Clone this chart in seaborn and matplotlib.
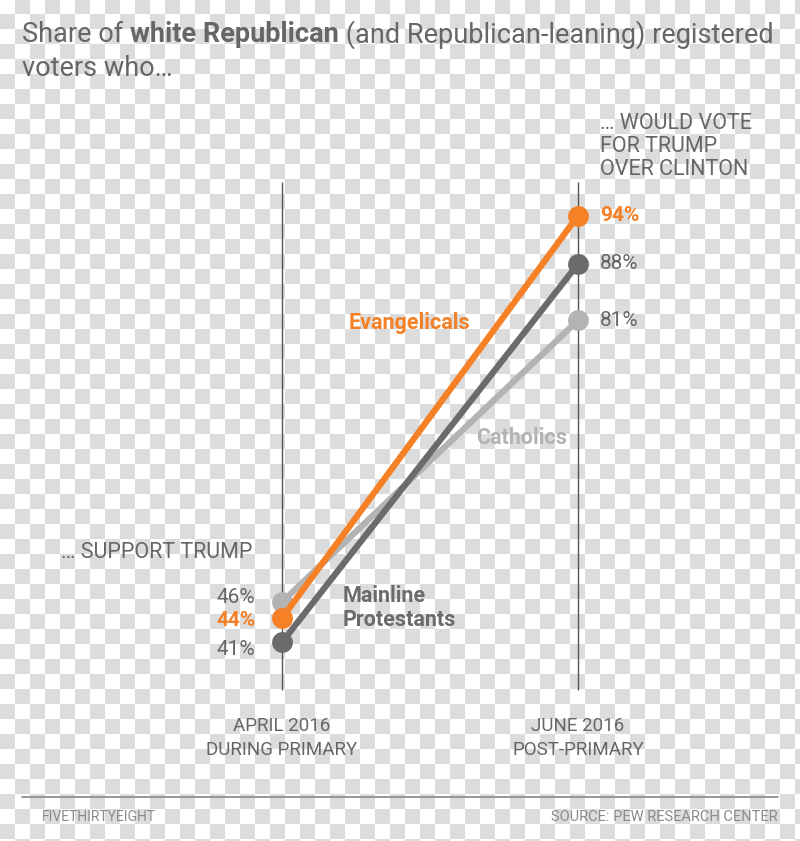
import numpy as np
import pandas as pd
import matplotlib
matplotlib.use("Agg")
import matplotlib.pyplot as plt
import seaborn as sns

# data
groups = ["Catholics", "Mainline Protestants", "Evangelicals"]
periods = ["APRIL 2016\nDURING PRIMARY", "JUNE 2016\nPOST-PRIMARY"]
april = [46, 41, 44]
june = [81, 88, 94]

df = pd.DataFrame({
    "group": groups * 2,
    "period": [0] * 3 + [1] * 3,
    "share": april + june,
})

ORANGE = "#f58025"
DARK = "#6b6b6b"
LIGHT = "#b3b3b3"
TEXT = "#666666"
palette = {"Catholics": LIGHT, "Mainline Protestants": DARK, "Evangelicals": ORANGE}

sns.set_style("white")
plt.rcParams["font.family"] = ["Roboto", "DejaVu Sans"]

W, H = 800, 841
fig = plt.figure(figsize=(W / 100, H / 100), dpi=100)

# checkerboard backdrop (transparent-png look)
yy, xx = np.indices((H, W))
checker = ((xx // 15 + (yy + 1) // 15) % 2).astype(float)
bg = np.where(checker[..., None] == 1, 0.865, 1.0) * np.ones((H, W, 3))
fig.figimage(bg, xo=0, yo=0, origin="upper", zorder=-5)

# one axes over the whole figure; data scale chosen so the two columns sit at x=282/578 px
ax = fig.add_axes([0, 0, 1, 1])
ax.set_facecolor("none")
ax.set_zorder(2)
x0, x1 = 282, 578
px_per_pt = 8.05
ref_y, ref_v = 602, 46
ax.set_xlim(-x0 / (x1 - x0), (W - x0) / (x1 - x0))
ax.set_ylim(ref_v - (H - ref_y) / px_per_pt, ref_v + ref_y / px_per_pt)
ax.axis("off")


def v_at(ypx):
    return ref_v + (ref_y - ypx) / px_per_pt


ax.vlines([0, 1], v_at(690), v_at(182), color="#555555", lw=1, zorder=1)

sns.lineplot(data=df, x="period", y="share", hue="group", hue_order=groups,
             palette=palette, marker="o", markersize=15, markeredgewidth=0,
             linewidth=4.5, legend=False, ax=ax, zorder=3)


def fx(x):
    return x / W


def fy(y):
    return 1 - y / H


# title with bold run
renderer = fig.canvas.get_renderer()
tx = 22
for piece, wt in [("Share of ", "normal"), ("white Republican", "bold"),
                  (" (and Republican-leaning) registered", "normal")]:
    t = fig.text(fx(tx), fy(35), piece, fontsize=19.5, fontweight=wt, color=TEXT,
                 va="center", ha="left", zorder=3)
    bb = t.get_window_extent(renderer)
    tx += bb.width
fig.text(fx(22), fy(68), "voters who…", fontsize=19.5, color=TEXT, va="center", zorder=3)

fig.text(fx(600), fy(113), "… WOULD VOTE\nFOR TRUMP\nOVER CLINTON", fontsize=15.5,
         color=TEXT, va="top", ha="left", linespacing=1.13, zorder=3)
fig.text(fx(252), fy(552), "… SUPPORT TRUMP", fontsize=15.5, color=TEXT,
         va="center", ha="right", zorder=3)

# value labels
for g, j in zip(groups, june):
    bold = g == "Evangelicals"
    col = ORANGE if bold else TEXT
    wt = "bold" if bold else "normal"
    ax.annotate(f"{j}%", (1, j), xytext=(16, 0), textcoords="offset points",
                fontsize=15, color=col, fontweight=wt, va="center", ha="left")
left_off = {"Catholics": 3.5, "Mainline Protestants": -5, "Evangelicals": -1.5}
for g, a in zip(groups, april):
    bold = g == "Evangelicals"
    col = ORANGE if bold else TEXT
    wt = "bold" if bold else "normal"
    ax.annotate(f"{a}%", (0, a), xytext=(-19, left_off[g]), textcoords="offset points",
                fontsize=15, color=col, fontweight=wt, va="center", ha="right")

# series labels
fig.text(fx(349), fy(323), "Evangelicals", fontsize=15.5, fontweight="bold",
         color=ORANGE, va="center", ha="left", zorder=3)
fig.text(fx(476), fy(438), "Catholics", fontsize=15.5, fontweight="bold",
         color=LIGHT, va="center", ha="left", zorder=3)
fig.text(fx(343), fy(608), "Mainline\nProtestants", fontsize=15.5, fontweight="bold",
         color=DARK, va="center", ha="left", linespacing=1.14, zorder=3)

# period labels
for i, lab in enumerate(periods):
    ax.annotate(lab, (i, v_at(690)), xytext=(0, -19.5), textcoords="offset points",
                fontsize=13.5, color=TEXT, va="top", ha="center",
                linespacing=1.42)

# footer
fig.add_artist(plt.Line2D([fx(22), fx(778)], [fy(797), fy(797)], color="#888888", lw=1.2))
fig.text(fx(42), fy(817), "FIVETHIRTYEIGHT", fontsize=10, color="#8a8a8a",
         va="center", ha="left", zorder=3)
fig.text(fx(778), fy(817), "SOURCE: PEW RESEARCH CENTER", fontsize=10.5,
         color="#8a8a8a", va="center", ha="right", zorder=3)

fig.savefig("out.png", dpi=100)
